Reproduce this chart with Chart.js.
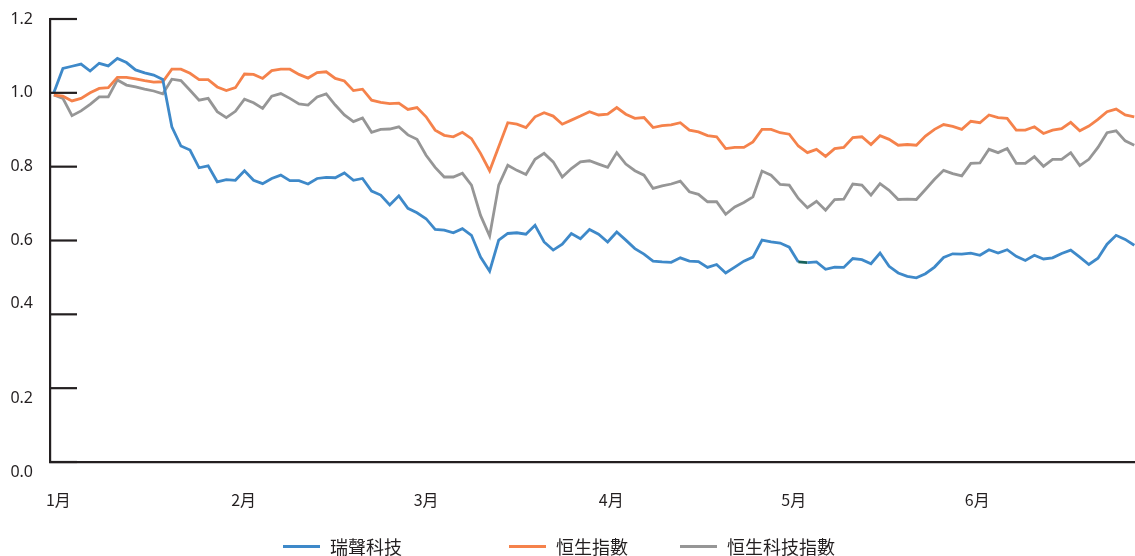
<!DOCTYPE html>
<html>
<head>
<meta charset="utf-8">
<script src="https://cdn.jsdelivr.net/npm/chart.js@4.4.1/dist/chart.umd.min.js"></script>
<style>
  body { margin: 0; background: #fff; }
  #wrap { position: relative; width: 1135px; height: 556px; }
  #legend { position: absolute; left: 0; top: 536px; width: 1135px; height: 20px;
    font: 18px "Noto Sans CJK TC"; color: #231f20; line-height: 20px; }
  .item { position: absolute; top: 0; display: flex; align-items: center; white-space: nowrap; }
  .swatch { width: 37px; height: 3px; margin-right: 10px; }
</style>
</head>
<body>
<div id="wrap">
  <canvas id="perfChart" width="1135" height="556"></canvas>
  <div id="legend"></div>
</div>
<script>
// Series (trading days, Jan - Jun), rebased to 1.0
const seriesNames = ['瑞聲科技', '恒生指數', '恒生科技指數'];

const aac = [
  1.000, 1.066, 1.072, 1.078, 1.059, 1.080, 1.073, 1.093, 1.082, 1.062,
  1.054, 1.048, 1.036, 0.908, 0.856, 0.845, 0.797, 0.802, 0.759, 0.765,
  0.763, 0.789, 0.763, 0.754, 0.768, 0.777, 0.762, 0.762, 0.753, 0.768,
  0.771, 0.770, 0.783, 0.763, 0.768, 0.734, 0.723, 0.696, 0.721, 0.687,
  0.675, 0.659, 0.630, 0.628, 0.621, 0.632, 0.614, 0.555, 0.517, 0.601,
  0.619, 0.621, 0.617, 0.641, 0.596, 0.574, 0.590, 0.619, 0.605, 0.630,
  0.617, 0.596, 0.623, 0.601, 0.578, 0.563, 0.544, 0.542, 0.541, 0.553,
  0.544, 0.543, 0.527, 0.535, 0.512, 0.528, 0.544, 0.555, 0.601, 0.596,
  0.593, 0.582, 0.542, 0.540, 0.542, 0.522, 0.528, 0.527, 0.551, 0.548,
  0.537, 0.566, 0.530, 0.512, 0.503, 0.499, 0.510, 0.528, 0.554, 0.564,
  0.563, 0.566, 0.560, 0.575, 0.566, 0.575, 0.557, 0.546, 0.560, 0.550,
  0.553, 0.565, 0.574, 0.555, 0.535, 0.552, 0.590, 0.614, 0.603, 0.587
];

const hsi = [
  0.994, 0.991, 0.978, 0.985, 1.000, 1.012, 1.014, 1.042, 1.042, 1.038,
  1.033, 1.029, 1.030, 1.064, 1.064, 1.053, 1.036, 1.036, 1.016, 1.006,
  1.014, 1.051, 1.050, 1.039, 1.060, 1.064, 1.064, 1.050, 1.040, 1.055,
  1.057, 1.039, 1.032, 1.006, 1.010, 0.980, 0.974, 0.971, 0.972, 0.955,
  0.960, 0.935, 0.899, 0.885, 0.881, 0.893, 0.876, 0.836, 0.789, 0.854,
  0.919, 0.915, 0.906, 0.935, 0.946, 0.937, 0.915, 0.926, 0.937, 0.949,
  0.940, 0.942, 0.960, 0.942, 0.931, 0.933, 0.906, 0.911, 0.913, 0.919,
  0.899, 0.894, 0.884, 0.881, 0.849, 0.852, 0.852, 0.867, 0.901, 0.901,
  0.892, 0.888, 0.856, 0.838, 0.847, 0.828, 0.849, 0.852, 0.879, 0.881,
  0.860, 0.884, 0.874, 0.858, 0.860, 0.858, 0.883, 0.901, 0.914, 0.909,
  0.901, 0.923, 0.919, 0.940, 0.933, 0.931, 0.899, 0.899, 0.908, 0.890,
  0.899, 0.903, 0.920, 0.897, 0.910, 0.928, 0.949, 0.956, 0.940, 0.935
];

const hstech = [
  0.994, 0.985, 0.938, 0.951, 0.969, 0.989, 0.989, 1.035, 1.021, 1.016,
  1.010, 1.005, 0.997, 1.037, 1.033, 1.007, 0.980, 0.985, 0.949, 0.933,
  0.950, 0.983, 0.973, 0.958, 0.991, 0.998, 0.985, 0.970, 0.967, 0.989,
  0.997, 0.967, 0.940, 0.922, 0.932, 0.893, 0.901, 0.902, 0.908, 0.886,
  0.874, 0.831, 0.798, 0.772, 0.772, 0.782, 0.750, 0.668, 0.612, 0.750,
  0.804, 0.790, 0.779, 0.820, 0.836, 0.813, 0.772, 0.795, 0.813, 0.816,
  0.807, 0.798, 0.838, 0.807, 0.789, 0.777, 0.741, 0.748, 0.753, 0.761,
  0.732, 0.725, 0.705, 0.705, 0.671, 0.691, 0.703, 0.718, 0.788, 0.777,
  0.752, 0.750, 0.714, 0.689, 0.706, 0.682, 0.711, 0.712, 0.753, 0.750,
  0.723, 0.754, 0.736, 0.711, 0.712, 0.711, 0.738, 0.766, 0.790, 0.781,
  0.775, 0.809, 0.810, 0.847, 0.838, 0.849, 0.809, 0.809, 0.827, 0.801,
  0.820, 0.820, 0.838, 0.803, 0.820, 0.852, 0.892, 0.897, 0.870, 0.858
];

// x-axis month labels and where they sit (in trading-day index units)
const monthLabels = ['1月', '2月', '3月', '4月', '5月', '6月'];
const monthPos = [0.5, 20.9, 41.0, 61.4, 81.5, 101.7];

// y-axis ticks
const yTicks = [0, 0.2, 0.4, 0.6, 0.8, 1.0, 1.2];

const ink = '#231f20';
const colors = ['#3e89c9', '#f5824b', '#969696'];
const oddSegment = 82;   // one short dark segment on the AAC line
const yLabelNudge = { '0.4': -11, '0.2': 10, '0.0': 10 };

const toPoints = arr => arr.map((v, i) => ({ x: i, y: v }));

// inward tick marks and y labels, drawn against the y scale
const axisDecor = {
  id: 'axisDecor',
  afterDraw(chart) {
    const { ctx, chartArea } = chart;
    const y = chart.scales.y;
    ctx.save();
    ctx.strokeStyle = ink;
    ctx.fillStyle = ink;
    ctx.lineWidth = 2.2;
    ctx.font = '16px "Noto Sans"';
    ctx.textAlign = 'right';
    ctx.textBaseline = 'middle';
    y.ticks.forEach(t => {
      const py = y.getPixelForValue(t.value);
      ctx.beginPath();
      ctx.moveTo(chartArea.left, py);
      ctx.lineTo(chartArea.left + 27, py);
      ctx.stroke();
      const txt = t.value.toFixed(1);
      ctx.fillText(txt, chartArea.left - 17, py + (yLabelNudge[txt] || 0));
    });
    ctx.restore();
  }
};

const chart = new Chart(document.getElementById('perfChart'), {
  type: 'line',
  data: {
    datasets: [aac, hsi, hstech].map((arr, k) => ({
      label: seriesNames[k],
      data: toPoints(arr),
      borderColor: colors[k],
      backgroundColor: colors[k],
      borderWidth: 2.8,
      pointRadius: 0,
      tension: 0,
      segment: k === 0 ? {
        borderColor: c => c.p0DataIndex === oddSegment ? '#17625a' : undefined
      } : undefined
    }))
  },
  options: {
    responsive: false,
    animation: false,
    devicePixelRatio: 1,
    layout: { padding: { top: 19, right: 0, left: 0, bottom: 0 } },
    plugins: { legend: { display: false }, tooltip: { enabled: false } },
    scales: {
      x: {
        type: 'linear',
        min: -0.42,
        max: 119.08,
        afterBuildTicks: s => { s.ticks = monthPos.map(v => ({ value: v })); },
        afterFit: s => { s.height = 94; },
        grid: { display: false },
        border: { color: ink, width: 2.2 },
        ticks: {
          autoSkip: false,
          maxRotation: 0,
          padding: 20,
          color: ink,
          font: { family: '"Noto Sans CJK TC"', size: 16 },
          callback: (v, i) => monthLabels[i]
        }
      },
      y: {
        min: 0,
        max: 1.2,
        afterBuildTicks: s => { s.ticks = yTicks.map(v => ({ value: v })); },
        afterFit: s => { s.width = 50; },
        grid: { display: false },
        border: { color: ink, width: 2.2 },
        ticks: { display: false }
      }
    }
  },
  plugins: [axisDecor]
});

// legend laid out under the chart
const legendLeft = [283, 509, 680];
const legendEl = document.getElementById('legend');
chart.data.datasets.forEach((ds, k) => {
  const item = document.createElement('div');
  item.className = 'item';
  item.style.left = legendLeft[k] + 'px';
  const sw = document.createElement('span');
  sw.className = 'swatch';
  sw.style.background = ds.borderColor;
  const txt = document.createElement('span');
  txt.textContent = ds.label;
  item.appendChild(sw);
  item.appendChild(txt);
  legendEl.appendChild(item);
});
</script>
</body>
</html>
